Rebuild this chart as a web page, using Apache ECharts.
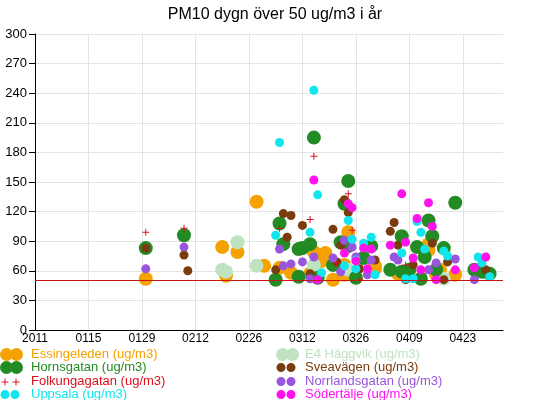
<!DOCTYPE html>
<html>
<head>
<meta charset="utf-8">
<script src="https://cdn.jsdelivr.net/npm/echarts@6/dist/echarts.min.js"></script>
<style>html,body{margin:0;padding:0;background:#fff}#c{width:550px;height:400px}</style>
</head>
<body>
<div id="c"></div>
<script>
// x values are day numbers counted from 1 Jan 2011
const xTickLabels = ['2011','0115','0129','0212','0226','0312','0326','0409','0423'];
const yTickStep = 30;
const limitValue = 50;

const essingeleden = [[29,52],[49,84],[50,55],[53,79],[58,130],[60,65],[64,63],[67,58],[72,57],[73,79],[75,70],[76,78],[78,51],[81,66],[81,56],[82,99],[89,65],[89,62],[95,57],[103,87],[103,81],[105,56],[106,61],[110,56]];
const e4Haggvik = [[49,61],[50,59],[53,89],[58,65],[73,66],[82,61],[107,52]];
const hornsgatan = [[29,83],[39,96],[63,51],[64,108],[65,87],[69,54],[69,82],[70,83],[72,87],[73,195],[74,53],[78,66],[80,89],[81,128],[82,151],[82,85],[84,53],[86,73],[88,85],[93,61],[96,95],[96,59],[98,61],[100,84],[101,52],[102,74],[103,111],[104,95],[105,61],[107,83],[110,129],[115,61],[117,59],[119,57]];
const sveavagen = [[29,83],[39,76],[40,60],[63,61],[65,118],[66,94],[67,116],[70,106],[72,57],[78,102],[79,69],[80,86],[81,132],[82,119],[85,62],[89,71],[93,100],[94,109],[95,86],[97,51],[99,66],[104,88],[107,51],[108,69],[118,61]];
const folkungagatan = [[29,99],[39,103],[64,103],[72,112],[73,176],[79,68],[82,138],[83,101],[85,51],[97,66]];
const norrlandsgatan = [[29,62],[39,84],[64,82],[65,65],[67,67],[70,69],[72,52],[73,74],[78,73],[80,59],[81,91],[83,84],[84,74],[87,56],[88,71],[94,74],[95,71],[103,61],[105,68],[110,72],[115,51]];
const uppsala = [[63,96],[64,190],[72,99],[73,243],[74,137],[75,58],[81,65],[82,111],[83,92],[84,62],[84,71],[86,88],[88,94],[89,56],[96,78],[97,52],[99,52],[100,110],[101,99],[102,82],[107,80],[108,75],[116,74],[117,68],[119,54]];
const sodertalje = [[73,152],[74,51],[81,78],[82,128],[83,124],[84,70],[86,83],[87,62],[88,82],[93,86],[96,138],[97,89],[99,73],[100,113],[101,61],[103,129],[104,105],[105,51],[110,61],[115,63],[118,74]];

const FONT = "'Liberation Sans', Arial, sans-serif";
const CROSS = 'path://M3,0h1v3h3v1h-3v3h-1v-3h-3v-1h3z';

function circle(cx, cy, r) {
  return 'M' + (cx - r) + ',' + cy + 'a' + r + ',' + r + ' 0 1,0 ' + (2 * r) + ',0a' + r + ',' + r + ' 0 1,0 ' + (-2 * r) + ',0';
}
function frame(w) { return 'M0,0L0.01,0M' + w + ',13L' + (w - 0.01) + ',13'; }
function bigIcon(w) { return 'path://' + frame(w) + circle(6.5, 6.5, 6.5) + circle(16.5, 6.5, 6.5); }
function smallIcon(w) { return 'path://' + frame(w) + circle(5, 6.5, 4.5) + circle(15, 6.5, 4.5); }
function crossIcon(w) {
  const p = (x) => 'M' + (x + 2.5) + ',3.5h1v3h3v1h-3v3h-1v-3h-3v-1h3z';
  return 'path://' + frame(w) + p(2) + p(13);
}

const seriesDefs = [
  { name: 'Essingeleden (ug/m3)', data: essingeleden, color: '#f5a200', size: 14, symbol: 'circle', icon: bigIcon, col: 0, row: 0 },
  { name: 'E4 Häggvik (ug/m3)', data: e4Haggvik, color: '#bfe2c0', size: 14, symbol: 'circle', icon: bigIcon, col: 1, row: 0 },
  { name: 'Hornsgatan (ug/m3)', data: hornsgatan, color: '#238b23', size: 14, symbol: 'circle', icon: bigIcon, col: 0, row: 1 },
  { name: 'Sveavägen (ug/m3)', data: sveavagen, color: '#7a3c0c', size: 9, symbol: 'circle', icon: smallIcon, col: 1, row: 1 },
  { name: 'Folkungagatan (ug/m3)', data: folkungagatan, color: '#dd1020', size: 7, symbol: CROSS, icon: crossIcon, col: 0, row: 2 },
  { name: 'Norrlandsgatan (ug/m3)', data: norrlandsgatan, color: '#9955dd', size: 9, symbol: 'circle', icon: smallIcon, col: 1, row: 2 },
  { name: 'Uppsala (ug/m3)', data: uppsala, color: '#11e6ee', size: 9, symbol: 'circle', icon: smallIcon, col: 0, row: 3 },
  { name: 'Södertälje (ug/m3)', data: sodertalje, color: '#ff11ee', size: 9, symbol: 'circle', icon: smallIcon, col: 1, row: 3 }
];

const colLeft = [0, 276];
const colIconW = [26, 24];
const rowTop = [348, 361, 375, 388];

const legends = seriesDefs.map(d => ({
  data: [{ name: d.name, icon: d.icon(colIconW[d.col]) }],
  left: colLeft[d.col],
  top: rowTop[d.row],
  padding: 0,
  itemWidth: colIconW[d.col],
  itemHeight: 13,
  selectedMode: false,
  textStyle: { color: d.color, fontSize: 13, fontFamily: FONT }
}));

const series = seriesDefs.map(d => ({
  type: 'scatter',
  name: d.name,
  data: d.data,
  symbol: d.symbol,
  symbolSize: d.size,
  itemStyle: { color: d.color, opacity: 1 },
  emphasis: { disabled: true },
  z: 3
}));
series.unshift({
  type: 'line',
  name: 'limit',
  data: [],
  z: 2,
  markLine: {
    silent: true,
    symbol: ['none', 'none'],
    label: { show: false },
    lineStyle: { color: '#c81414', width: 1, type: 'solid' },
    data: [{ yAxis: limitValue }]
  }
});

const chart = echarts.init(document.getElementById('c'), null, { renderer: 'canvas' });
chart.setOption({
  animation: false,
  backgroundColor: '#fff',
  title: {
    text: 'PM10 dygn över 50 ug/m3 i år',
    left: 'center',
    top: 2,
    textStyle: { fontSize: 16, fontWeight: 'normal', color: '#000', fontFamily: FONT }
  },
  legend: legends,
  grid: { left: 35, right: 47, top: 34, bottom: 70, containLabel: false },
  xAxis: {
    type: 'value',
    min: 0,
    max: 122.5,
    interval: 14,
    axisLine: { show: true, lineStyle: { color: '#000', width: 1 } },
    axisTick: { show: false },
    splitLine: { show: true, showMaxLine: false, lineStyle: { color: '#e4e4e4', width: 1 } },
    axisLabel: {
      color: '#000', fontSize: 12, fontFamily: FONT, margin: 3, showMaxLabel: false,
      formatter: v => { const i = v / 14; return Number.isInteger(i) && xTickLabels[i] ? xTickLabels[i] : ''; }
    }
  },
  yAxis: {
    type: 'value',
    min: 0,
    max: 300,
    interval: yTickStep,
    axisLine: { show: true, lineStyle: { color: '#000', width: 1 } },
    axisTick: { show: true, length: 6, lineStyle: { color: '#000' } },
    splitLine: { show: true, lineStyle: { color: '#e4e4e4', width: 1 } },
    axisLabel: { color: '#000', fontSize: 13, fontFamily: FONT, margin: 8 }
  },
  series: series
});
</script>
</body>
</html>
